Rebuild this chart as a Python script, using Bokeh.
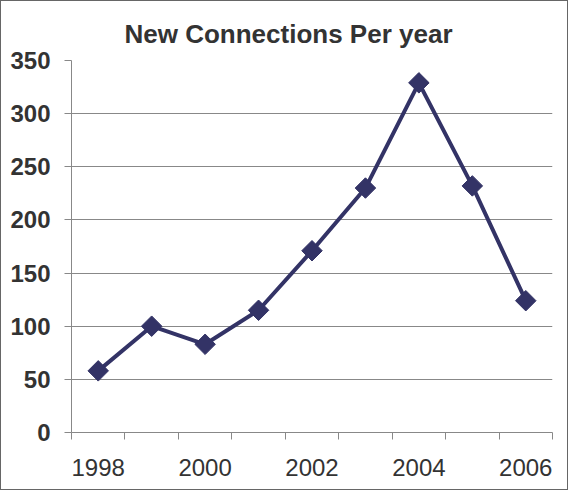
from bokeh.plotting import figure
from bokeh.models import Range1d, FixedTicker
from bokeh.embed import file_html
from bokeh.resources import INLINE

# ---- data ----
years = [1998, 1999, 2000, 2001, 2002, 2003, 2004, 2005, 2006]
connections = [58, 100, 83, 115, 171, 230, 329, 232, 124]
x_tick_labels = [1998, 2000, 2002, 2004, 2006]
y_ticks = [0, 50, 100, 150, 200, 250, 300, 350]
title_text = "New Connections Per year"

LINE = "#333366"
GRID = "#888888"
TEXT = "#333333"
FONT = "Liberation Sans"

p = figure(width=568, height=490, output_backend="svg", toolbar_location=None,
           x_range=Range1d(years[0] - 0.5, years[-1] + 0.5),
           y_range=Range1d(y_ticks[0], y_ticks[-1]),
           min_border_left=70, min_border_right=17,
           min_border_top=59, min_border_bottom=59)

p.styles = {"border": "1px solid #666666",
            "box-shadow": "-3px 0 0 0 #ffffff, -8px 0 0 0 #333333"}

p.title.text = title_text
p.title.align = "left"
p.title.offset = 53
p.title.standoff = 24
p.title.text_font = FONT
p.title.text_font_size = "26px"
p.title.text_font_style = "bold"
p.title.text_color = TEXT

p.outline_line_color = None
p.background_fill_color = "white"
p.border_fill_color = "white"

p.xgrid.visible = False
p.ygrid.grid_line_color = GRID
p.ygrid.grid_line_width = 1

# x axis: labels at every other year, tick marks between categories
minor = [y - 0.5 for y in years] + [years[-1] + 0.5]
p.xaxis.ticker = FixedTicker(ticks=x_tick_labels, minor_ticks=minor)
p.xaxis.major_tick_out = 0
p.xaxis.major_tick_in = 0
p.xaxis.minor_tick_out = 7
p.xaxis.minor_tick_in = 0
p.xaxis.minor_tick_line_color = GRID
p.xaxis.axis_line_color = GRID
p.xaxis.major_label_standoff = 19
p.xaxis.major_label_text_font = FONT
p.xaxis.major_label_text_font_size = "24px"
p.xaxis.major_label_text_color = TEXT

p.yaxis.ticker = FixedTicker(ticks=y_ticks)
p.yaxis.major_tick_out = 7
p.yaxis.major_tick_in = 0
p.yaxis.major_tick_line_color = GRID
p.yaxis.minor_tick_line_color = None
p.yaxis.axis_line_color = GRID
p.yaxis.major_label_standoff = 14
p.yaxis.major_label_text_font = FONT
p.yaxis.major_label_text_font_size = "24px"
p.yaxis.major_label_text_font_style = "bold"
p.yaxis.major_label_text_color = TEXT

p.line(years, connections, line_color=LINE, line_width=4)
p.scatter(years, connections, marker="square", size=14.5, angle=0.785398,
          fill_color=LINE, line_color=LINE, line_width=1)

open("out.html", "w").write(file_html(p, INLINE))
